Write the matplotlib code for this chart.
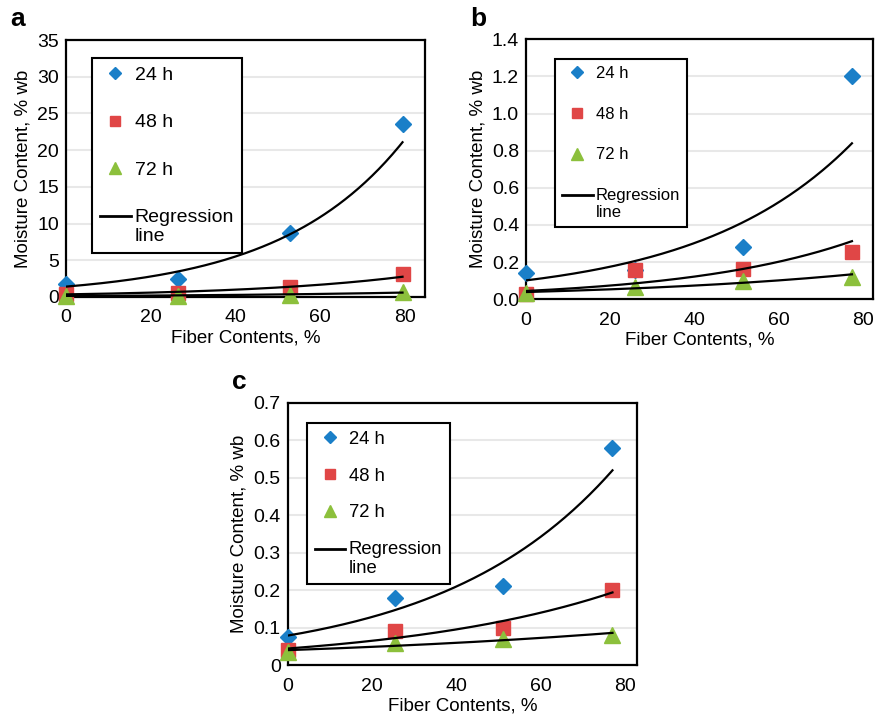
import numpy as np
import matplotlib
matplotlib.use("Agg")
import matplotlib.pyplot as plt
from matplotlib.lines import Line2D
from matplotlib.legend_handler import HandlerLine2D
from matplotlib.ticker import FuncFormatter

plt.rcParams['font.family'] = ['Liberation Sans', 'DejaVu Sans']

# fiber content (%) and moisture content (% wb) per soaking time
x_a = [0, 26.5, 53, 79.5]
a_24 = [1.8, 2.4, 8.7, 23.6]
a_48 = [0.45, 0.5, 1.35, 3.15]
a_72 = [0.15, 0.2, 0.3, 0.7]

x_b = [0, 25.8, 51.5, 77.3]
b_24 = [0.14, 0.155, 0.28, 1.2]
b_48 = [0.03, 0.155, 0.165, 0.255]
b_72 = [0.035, 0.065, 0.1, 0.12]

x_c = [0, 25.5, 51, 77]
c_24 = [0.075, 0.18, 0.21, 0.58]
c_48 = [0.04, 0.09, 0.10, 0.20]
c_72 = [0.036, 0.058, 0.069, 0.08]

labels = ["24 h", "48 h", "72 h"]
colors = ["#1a7fc8", "#e04646", "#8cc03c"]
markers = ["D", "s", "^"]
msizes = [8.5, 10, 11]


class TopLine(HandlerLine2D):
    # put the line next to the first row of a two-line label
    def create_artists(self, legend, orig_handle, xdescent, ydescent,
                       width, height, fontsize, trans):
        return super().create_artists(legend, orig_handle, xdescent,
                                      ydescent - 1.15 * fontsize, width, height,
                                      fontsize, trans)


def panel(rect, letter, x, series, ymax, ystep, xmax, fmt, leg):
    ax = fig.add_axes(rect)
    for y, lab, c, m, ms in zip(series, labels, colors, markers, msizes):
        ax.plot(x, y, linestyle="none", marker=m, color=c, ms=ms,
                label=lab, clip_on=False, zorder=3)
    # exponential trend lines
    xs = np.linspace(x[0], x[-1], 200)
    for y in series:
        k, b = np.polyfit(x, np.log(y), 1)
        ax.plot(xs, np.exp(b + k * xs), color="black", lw=1.6, zorder=4)

    ax.set_xlim(0, xmax)
    ax.set_ylim(0, ymax)
    ax.set_xticks([0, 20, 40, 60, 80])
    ax.set_yticks(np.arange(0, ymax + ystep / 2, ystep))
    ax.yaxis.set_major_formatter(FuncFormatter(fmt))
    ax.grid(axis="y", color="#e8e8e8", lw=1.5)
    ax.set_axisbelow(True)
    ax.tick_params(length=0, labelsize=14)
    ax.tick_params(axis="x", pad=9)
    ax.tick_params(axis="y", pad=5)
    for s in ax.spines.values():
        s.set_linewidth(1.6)
    ax.set_xlabel("Fiber Contents, %", fontsize=13.5, labelpad=2)
    ax.set_ylabel("Moisture Content, % wb", fontsize=13.5, labelpad=4)

    fs, lsp, hl, anchor = leg
    handles = [Line2D([], [], ls="none", marker=m, color=c, ms=ms)
               for c, m, ms in zip(colors, markers, msizes)]
    reg = Line2D([], [], color="black", lw=2)
    handles.append(reg)
    lg = ax.legend(handles, labels + ["Regression\nline"], loc="upper left",
                   bbox_to_anchor=anchor, borderaxespad=0, fontsize=fs,
                   labelspacing=lsp, handlelength=hl, handletextpad=0.2,
                   borderpad=0.4, markerscale=0.75, fancybox=False,
                   framealpha=1, edgecolor="black",
                   handler_map={reg: TopLine()})
    lg.get_frame().set_linewidth(1.5)
    for t in lg.get_texts():
        t.set_linespacing(1.15)
    fig.text(rect[0] - 0.064, rect[1] + rect[3] + 0.012, letter,
             fontsize=19, fontweight="bold", va="bottom", ha="left")
    return ax


fig = plt.figure(figsize=(8.76, 7.17), dpi=100)

panel([0.0753, 0.5858, 0.4098, 0.3584], "a", x_a, [a_24, a_48, a_72],
      35, 5, 84.8, lambda v, p: f"{v:.0f}", (14, 1.55, 1.6, (0.072, 0.929)))
panel([0.6005, 0.5826, 0.3961, 0.3626], "b", x_b, [b_24, b_48, b_72],
      1.4, 0.2, 82.3, lambda v, p: f"{v:.1f}", (12, 1.55, 1.85, (0.084, 0.924)))
panel([0.3284, 0.0725, 0.3987, 0.3658], "c", x_c, [c_24, c_48, c_72],
      0.7, 0.1, 82.8, lambda v, p: "0" if abs(v) < 1e-9 else f"{v:.1f}",
      (13.3, 1.07, 1.65, (0.056, 0.921)))

fig.savefig("out.png", dpi=100)
